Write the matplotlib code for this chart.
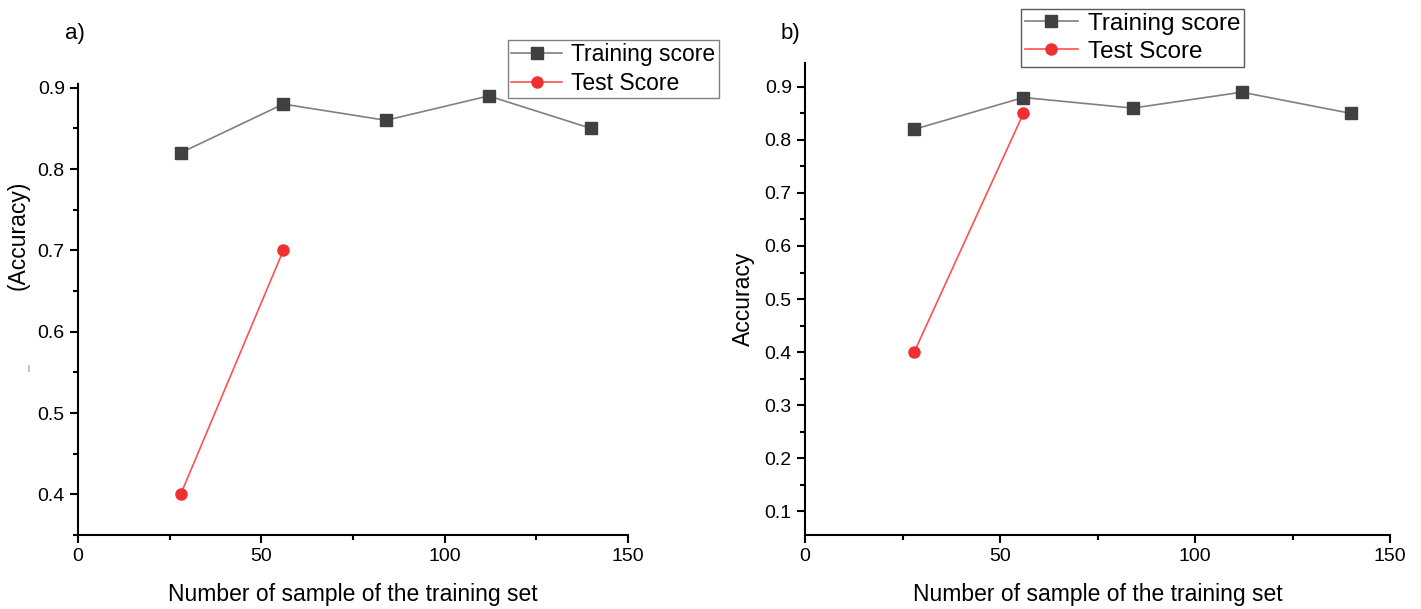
import matplotlib.pyplot as plt
from matplotlib.ticker import MultipleLocator

plt.rcParams['font.family'] = ['Liberation Sans', 'DejaVu Sans']

train_x = [28, 56, 84, 112, 140]
train_score = [0.82, 0.88, 0.86, 0.89, 0.85]
test_x = [28, 56]
test_score_a = [0.40, 0.70]
test_score_b = [0.40, 0.85]

fig = plt.figure(figsize=(14.21, 6.09), dpi=100)
ax1 = fig.add_axes([0.0549, 0.1215, 0.387, 0.741])
ax2 = fig.add_axes([0.5665, 0.1215, 0.4117, 0.775])


def style(ax, ylim, ylabel):
    ax.plot(train_x, train_score, color='#808080', lw=1.2, marker='s', ms=8,
            mfc='#404040', mec='#404040', label='Training score')
    ax.set_xlim(0, 150)
    ax.set_ylim(*ylim)
    for s in ['top', 'right']:
        ax.spines[s].set_visible(False)
    for s in ['left', 'bottom']:
        ax.spines[s].set_linewidth(1.5)
    ax.xaxis.set_major_locator(MultipleLocator(50))
    ax.xaxis.set_minor_locator(MultipleLocator(25))
    ax.yaxis.set_major_locator(MultipleLocator(0.1))
    ax.yaxis.set_minor_locator(MultipleLocator(0.05))
    ax.tick_params(which='major', direction='out', length=6, width=1.5, labelsize=14)
    ax.tick_params(which='minor', direction='out', length=3.5, width=1.5)
    ax.set_xlabel('Number of sample of the training set', fontsize=16.5, labelpad=13)
    ax.set_ylabel(ylabel, fontsize=16.5)


style(ax1, (0.35, 0.905), '(Accuracy)')
ax1.plot(test_x, test_score_a, color='#ff5050', lw=1.2, marker='o', ms=8,
         mfc='#f03030', mec='#f03030', label='Test Score')
ax1.yaxis.set_label_coords(-0.088, 0.665)
ax1.legend(loc='upper left', bbox_to_anchor=(0.782, 1.098), fontsize=16.5, frameon=True,
           fancybox=False, edgecolor='#606060', handlelength=2.2, borderpad=0.15,
           labelspacing=0.25, handletextpad=0.4, borderaxespad=0)

style(ax2, (0.055, 0.945), 'Accuracy')
ax2.plot(test_x, test_score_b, color='#ff5050', lw=1.2, marker='o', ms=8,
         mfc='#f03030', mec='#f03030', label='Test Score')
ax2.yaxis.set_label_coords(-0.085, 0.5)
ax2.legend(loc='upper left', bbox_to_anchor=(0.369, 1.114), fontsize=17.5, frameon=True,
           fancybox=False, edgecolor='#303030', handlelength=2.2, borderpad=0.15,
           labelspacing=0.25, handletextpad=0.4, borderaxespad=0)

fig.text(0.046, 0.945, 'a)', fontsize=16, va='center')
fig.text(0.549, 0.945, 'b)', fontsize=16, va='center')
fig.text(0.019, 0.395, '|', fontsize=5, color='#2050a0', va='center')

fig.savefig('out.png', dpi=100)
